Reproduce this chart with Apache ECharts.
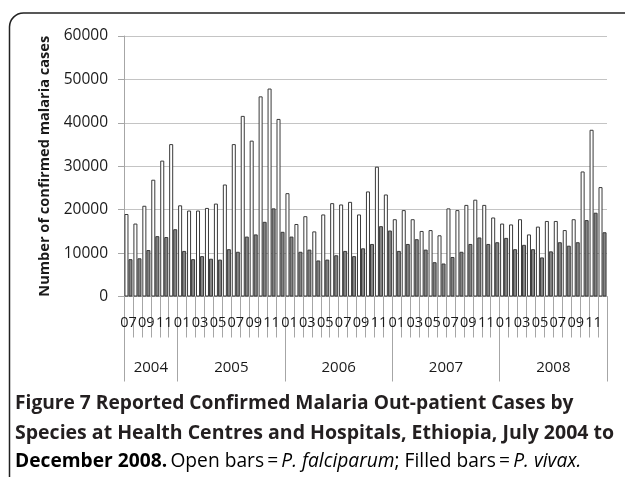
<!DOCTYPE html>
<html>
<head>
<meta charset="utf-8">
<script src="https://cdn.jsdelivr.net/npm/echarts@6/dist/echarts.min.js"></script>
<style>
html,body{margin:0;padding:0;background:#fff;}
#chart{width:625px;height:477px;}
</style>
</head>
<body>
<div id="chart"></div>
<script>
// Months July 2004 – December 2008
var monthLabels = ['07','08','09','10','11','12',
  '01','02','03','04','05','06','07','08','09','10','11','12',
  '01','02','03','04','05','06','07','08','09','10','11','12',
  '01','02','03','04','05','06','07','08','09','10','11','12',
  '01','02','03','04','05','06','07','08','09','10','11','12'];
var years = ['2004','2005','2006','2007','2008'];
var yearStarts = [0, 6, 18, 30, 42, 54];   // month index where each year starts (and end)
var yearCentres = [3, 12, 24, 36, 48];     // middle of each year's months

// P. falciparum (open bars)
var falciparum = [19000,16800,20900,26900,31300,35100,
  21000,19800,19800,20400,21400,25800,35100,41600,35900,46100,47900,40900,
  23800,16700,18500,15000,18900,21500,21200,21800,18900,24200,29900,23500,
  17800,19900,17800,15100,15300,14100,20300,19900,21100,22300,21100,18200,
  16800,16600,17800,14300,16100,17400,17400,15300,17800,28800,38400,25200];
// P. vivax (filled bars)
var vivax = [8600,8800,10700,13900,13700,15500,
  10500,8600,9300,8700,8500,10900,10300,13800,14300,17200,20300,14900,
  13800,10300,10800,8300,8500,9500,10500,9300,11100,12100,16200,15200,
  10500,12100,13200,10800,7900,7600,9100,10300,12100,13600,12100,12500,
  13500,10900,11900,10900,9000,10400,12500,11700,12500,17600,19300,14800];
var yTicks = [0,10000,20000,30000,40000,50000,60000];

var chart = echarts.init(document.getElementById('chart'));
var axisGray = '#a6a6a6';
var txt = '#1a1a1a';
var capFont = 'Open Sans';
var capColor = '#231f20';
chart.setOption({
  animation: false,
  grid: {left: 124, right: 18, top: 36, bottom: 180.5},
  xAxis: [{
    type: 'category',
    data: monthLabels,
    boundaryGap: true,
    axisLine: {show: true, lineStyle: {color: axisGray, width: 1}},
    axisTick: {show: true, interval: 0, length: 41, lineStyle: {color: axisGray}},
    axisLabel: {interval: 1, margin: 19, color: txt, fontFamily: 'Open Sans', fontSize: 14.5},
    splitLine: {show: false}
  }, {
    type: 'value',
    position: 'bottom',
    min: 0, max: 54,
    axisLine: {show: false},
    axisTick: {show: true, length: 85, customValues: yearStarts, lineStyle: {color: axisGray}},
    axisLabel: {show: true, margin: 64, customValues: yearCentres, color: txt,
      fontFamily: 'Open Sans', fontSize: 15,
      formatter: function (v) { var i = yearCentres.indexOf(v); return i >= 0 ? years[i] : ''; }},
    splitLine: {show: false}
  }],
  yAxis: {
    type: 'value',
    min: yTicks[0], max: yTicks[yTicks.length - 1], interval: 10000,
    name: 'Number of confirmed malaria cases',
    nameLocation: 'middle',
    nameGap: 71,
    nameTextStyle: {fontFamily: 'Open Sans', fontWeight: 'bold', fontSize: 14.6, color: txt},
    axisLine: {show: true, lineStyle: {color: axisGray}},
    axisTick: {show: true, length: 6, lineStyle: {color: axisGray}},
    axisLabel: {margin: 16, color: txt, fontFamily: 'Open Sans', fontSize: 15.5,
      formatter: function (v) { return String(v); }},
    splitLine: {show: true, lineStyle: {color: '#c4c4c4', width: 1}}
  },
  series: [{
    name: 'P. falciparum',
    type: 'bar',
    data: falciparum,
    barGap: '0%',
    barCategoryGap: '10%',
    itemStyle: {color: '#ffffff', borderColor: '#3a3a3a', borderWidth: 1}
  }, {
    name: 'P. vivax',
    type: 'bar',
    data: vivax,
    itemStyle: {color: '#858585', borderColor: '#3a3a3a', borderWidth: 1}
  }],
  graphic: [{
    type: 'rect',
    shape: {x: 9.5, y: 13, width: 700, height: 500, r: 14},
    style: {fill: 'none', stroke: '#222', lineWidth: 1.5},
    silent: true
  }, {
    type: 'text', left: 15, top: 394,
    style: {text: 'Figure 7 Reported Confirmed Malaria Out-patient Cases by',
      font: 'bold 19.2px "Open Sans"', fill: capColor}
  }, {
    type: 'text', left: 15, top: 423,
    style: {text: 'Species at Health Centres and Hospitals, Ethiopia, July 2004 to',
      font: 'bold 19.5px "Open Sans"', fill: capColor}
  }, {
    type: 'text', left: 15, top: 452,
    style: {
      text: '{b|December 2008.} {n|Open bars\u2009=\u2009}{i|P. falciparum}{n|; Filled bars\u2009=\u2009}{i|P. vivax.}',
      rich: {
        b: {fontFamily: capFont, fontWeight: 'bold', fontSize: 19.2, color: capColor},
        n: {fontFamily: capFont, fontSize: 19.2, color: capColor},
        i: {fontFamily: capFont, fontStyle: 'italic', fontSize: 19.2, color: capColor}
      }
    }
  }]
});
</script>
</body>
</html>
